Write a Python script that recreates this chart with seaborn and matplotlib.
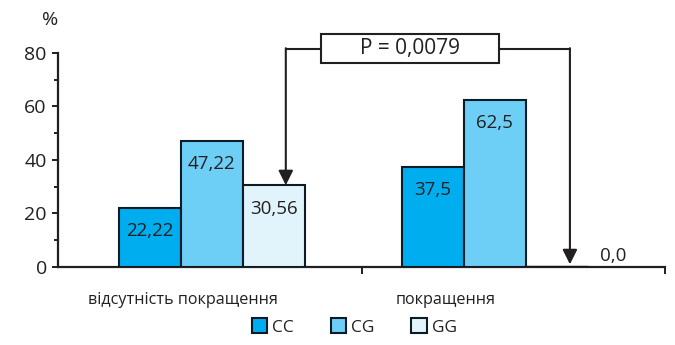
import pandas as pd
import matplotlib.pyplot as plt
import matplotlib.patches as mpatches
import seaborn as sns

# дані з рисунка
groups = ["відсутність покращення", "покращення"]
genotypes = ["CC", "CG", "GG"]
cc_vals = [22.22, 37.5]
cg_vals = [47.22, 62.5]
gg_vals = [30.56, 0.0]
y_ticks = [0, 20, 40, 60, 80]
p_text = "P = 0,0079"

colors = {"CC": "#00aeef", "CG": "#6dcff6", "GG": "#e1f4fc"}
ink = "#231f20"

rows = []
for i, g in enumerate(groups):
    for gt, vals in zip(genotypes, [cc_vals, cg_vals, gg_vals]):
        rows.append({"group": g, "genotype": gt, "value": vals[i]})
df = pd.DataFrame(rows)

sns.set_style("white")
plt.rcParams['font.family'] = ['Open Sans', 'DejaVu Sans']

fig = plt.figure(figsize=(6.75, 3.45), dpi=100)
ax = fig.add_axes([0.0859, 0.2261, 0.8993, 0.6203])

sns.barplot(data=df, x="group", y="value", hue="genotype", hue_order=genotypes,
            palette=colors, saturation=1, width=0.657, edgecolor="#0d1b26",
            linewidth=1.5, legend=False, ax=ax)
for p in ax.patches:
    p.set_zorder(3)
    if p.get_height() == 0:
        p.set_linewidth(2.4)

ax.set_xlim(-0.544, 1.601)
ax.set_ylim(0, 80)
sns.despine(ax=ax)
for s in ["left", "bottom"]:
    ax.spines[s].set_color(ink)
    ax.spines[s].set_linewidth(1.6)

ax.set_yticks(y_ticks)
ax.set_yticks([10, 30, 50, 70], minor=True)
ax.tick_params(axis="y", which="major", length=4, width=1.4, color=ink,
               labelsize=14, labelcolor=ink, pad=4, left=True)
ax.tick_params(axis="y", which="minor", length=3, width=1.4, color=ink, left=True)

ax.set_xticks([-0.102, 0.827])
ax.set_xticklabels(groups)
ax.set_xticks([0.530, 1.601], minor=True)
ax.tick_params(axis="x", which="major", length=0, labelsize=11.6, labelcolor=ink, pad=18)
ax.tick_params(axis="x", which="minor", length=5, width=1.4, color=ink, bottom=True)
ax.set_xlabel("")
ax.set_ylabel("")

ax.text(-0.013, 1.155, "%", transform=ax.transAxes, fontsize=14, color=ink,
        ha="center", va="center")

# підписи значень
offsets = [-0.219, 0.0, 0.219]
for i in range(len(groups)):
    for j, vals in enumerate([cc_vals, cg_vals, gg_vals]):
        v = vals[i]
        lab = f"{v:.2f}".rstrip("0").replace(".", ",")
        if lab.endswith(","):
            lab += "0"
        if v == 0:
            ax.text(i + offsets[j] + 0.2, 4.1, lab, ha="center", va="center",
                    fontsize=13.5, color=ink)
        else:
            ax.text(i + offsets[j], v - 8.8, lab, ha="center", va="center",
                    fontsize=13.5, color=ink, zorder=4)

# дужка з P
yb = 81.5
xl, xr = 0.261, 1.265
ax.plot([xl, 0.385], [yb, yb], color=ink, lw=1.5, clip_on=False)
ax.plot([1.014, xr], [yb, yb], color=ink, lw=1.5, clip_on=False)
for x, tip in [(xl, gg_vals[0]), (xr, gg_vals[1] + 1.0)]:
    ax.annotate("", xy=(x, tip), xytext=(x, yb + 0.3),
                arrowprops=dict(arrowstyle="-|>", mutation_scale=22, color=ink,
                                lw=1.5, shrinkA=0, shrinkB=0),
                annotation_clip=False, zorder=5)
box = mpatches.Rectangle((0.385, 76.3), 1.014 - 0.385, 87.1 - 76.3,
                         facecolor="white", edgecolor=ink, lw=1.5, clip_on=False)
ax.add_patch(box)
ax.text(0.70, 81.7, p_text, ha="center", va="center", fontsize=15, color=ink)

handles = [mpatches.Patch(facecolor=colors[g], edgecolor="#0d1b26", lw=1.5, label=g)
           for g in genotypes]
fig.legend(handles=handles, loc="center", bbox_to_anchor=(0.525, 0.052), ncol=3,
           frameon=False, handlelength=0.9, handleheight=0.9, handletextpad=0.3,
           columnspacing=2.1, fontsize=12.5, labelcolor=ink)

fig.savefig("out.png", dpi=100)
